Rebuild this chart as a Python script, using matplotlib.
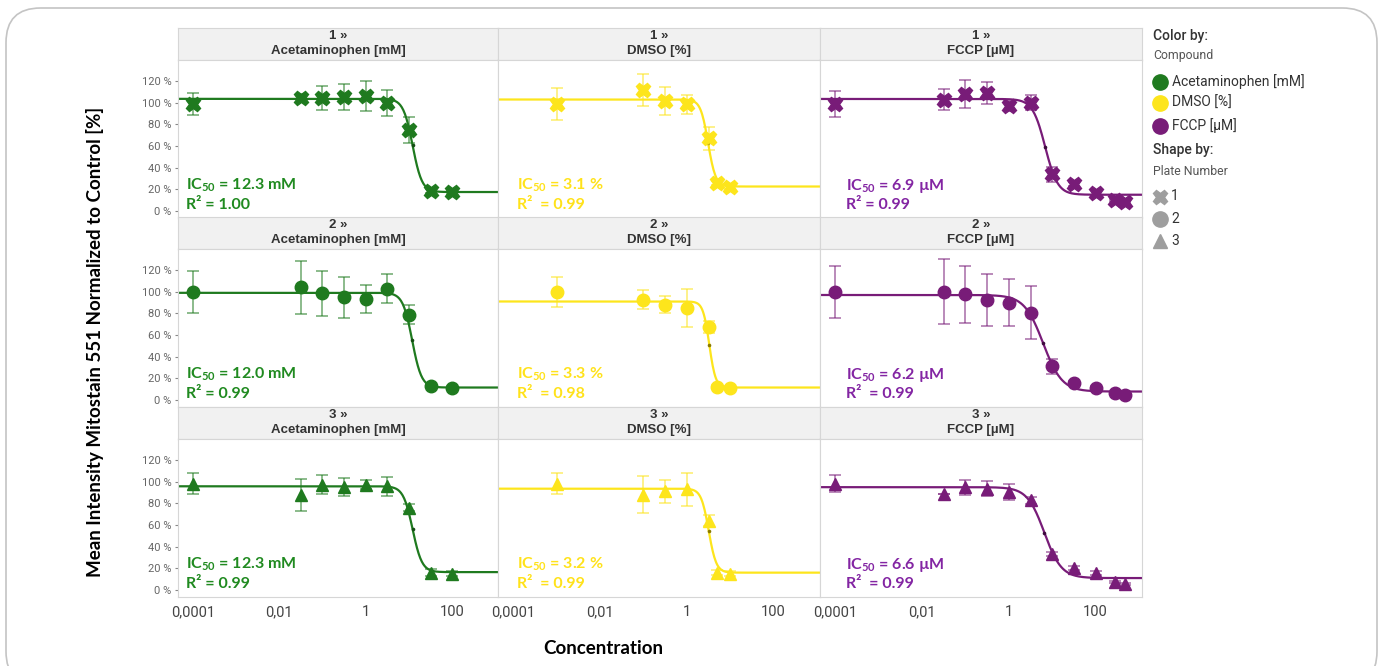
import numpy as np
import matplotlib.pyplot as plt
from matplotlib.patches import FancyBboxPatch

plt.rcParams['font.family'] = ['Roboto', 'DejaVu Sans']
plt.rcParams['mathtext.fontset'] = 'custom'
plt.rcParams['mathtext.rm'] = 'Lato:bold'
plt.rcParams['mathtext.it'] = 'Lato:bold'
plt.rcParams['mathtext.bf'] = 'Lato:bold'

# ---- data ----
compounds = ['Acetaminophen [mM]', 'DMSO [%]', 'FCCP [µM]']
plates = ['1', '2', '3']

conc_acet = [0.0001, 0.032, 0.1, 0.32, 1, 3.2, 10, 32, 100]
conc_dmso = [0.001, 0.1, 0.32, 1, 3.2, 5, 10]
conc_fccp = [0.0001, 0.032, 0.1, 0.32, 1, 3.2, 10, 32, 100, 280, 470]

acet_p1 = [99, 104.5, 104.5, 105, 106, 100, 75, 18.6, 17.7]
acet_p1_err = [10, 4, 11, 12, 14, 12, 12, 2, 2]
acet_p2 = [99.8, 104, 98.6, 95, 93, 103, 78.8, 13, 11.2]
acet_p2_err = [19.5, 24.5, 21, 19, 13, 13, 8.5, 2, 1.5]
acet_p3 = [98.3, 87.4, 97.4, 95.2, 97.4, 95.8, 76, 16, 15.2]
acet_p3_err = [9.5, 14.7, 9, 8, 4.5, 9, 3, 3, 2]

dmso_p1 = [99, 112, 102, 98.6, 67, 26, 22.6]
dmso_p1_err = [15, 15, 13, 9, 11, 2, 2]
dmso_p2 = [99.8, 92.7, 88, 85, 67.3, 12.4, 11.5]
dmso_p2_err = [14, 8.5, 8, 17.5, 5.7, 1, 1]
dmso_p3 = [98.3, 88, 91, 93, 64, 16, 15.2]
dmso_p3_err = [10, 17, 10.4, 15, 5, 2, 2]

fccp_p1 = [99, 103, 108, 109, 97, 100, 34, 25, 17, 10, 8.4]
fccp_p1_err = [12, 10, 13, 10, 5, 7, 7, 2, 2, 1, 1]
fccp_p2 = [99.8, 99.8, 97.7, 92, 90, 80.6, 31, 15.5, 11.5, 6.8, 4.6]
fccp_p2_err = [24, 30, 26.5, 24, 22, 24.5, 7, 2, 1.5, 1, 1]
fccp_p3 = [98.3, 88.4, 95, 93.6, 90.5, 82.8, 33, 20, 15.5, 7.4, 5.3]
fccp_p3_err = [7.8, 0, 7, 7, 7.8, 3, 2, 2, 2, 1, 1]

# 4PL fit parameters (top, bottom, IC50, hill)
fit_acet = [(103.6, 17.5, 12.3, 4), (99, 11.5, 12.0, 4), (95.8, 16.5, 12.3, 4)]
fit_dmso = [(103, 22.6, 3.1, 5), (91, 11.5, 3.3, 6), (93.6, 16, 3.2, 5)]
fit_fccp = [(103.5, 15, 6.9, 3), (97, 7.8, 6.2, 2), (95, 11, 6.6, 2.2)]

ic50_acet = ['12.3 mM', '12.0 mM', '12.3 mM']
ic50_dmso = ['3.1 %', '3.3 %', '3.2 %']
ic50_fccp = ['6.9 µM', '6.2 µM', '6.6 µM']
r2_acet = ['R² = 1.00', 'R² = 0.99', 'R² = 0.99']
r2_dmso = ['R²  = 0.99', 'R²  = 0.98', 'R²  = 0.99']
r2_fccp = ['R² = 0.99', 'R²  = 0.99', 'R²  = 0.99']

xticks = [0.0001, 0.01, 1, 100]
xtick_labels = ['0,0001', '0,01', '1', '100']
yticks = [0, 20, 40, 60, 80, 100, 120]

# ---- styling ----
colors = ['#1f7a1f', '#fde51c', '#781c78']
dot_colors = ['#124d12', '#8a7a00', '#3d0a3d']
text_colors = ['#208a20', '#ffe21a', '#8325a3']
markers = ['X', 'o', '^']
msizes = [10.5, 9, 9]

concs = [conc_acet, conc_dmso, conc_fccp]
vals = [[acet_p1, acet_p2, acet_p3], [dmso_p1, dmso_p2, dmso_p3], [fccp_p1, fccp_p2, fccp_p3]]
errs = [[acet_p1_err, acet_p2_err, acet_p3_err], [dmso_p1_err, dmso_p2_err, dmso_p3_err],
        [fccp_p1_err, fccp_p2_err, fccp_p3_err]]
fits = [fit_acet, fit_dmso, fit_fccp]
ic50s = [ic50_acet, ic50_dmso, ic50_fccp]
r2s = [r2_acet, r2_dmso, r2_fccp]

W, H = 1383, 666
fig = plt.figure(figsize=(W / 100, H / 100), dpi=100)


def box(x0, y0, x1, y1):
    return [x0 / W, 1 - y1 / H, (x1 - x0) / W, (y1 - y0) / H]


# outer rounded frame
fig.patches.append(FancyBboxPatch((6 / W, -20 / H), 1371 / W, 678 / H,
                                  boxstyle='round,pad=0,rounding_size=0.025',
                                  transform=fig.transFigure, fill=False,
                                  ec='#c4c4c4', lw=1.2, mutation_aspect=W / H))

col_x = [(178, 498), (498, 820), (820, 1142)]
head_top = [28, 217, 407]
xlim = (10 ** -4.35, 10 ** 3.07)
ann_x = [0.025, 0.06, 0.08]
grid_c = '#d6d6d6'

for r in range(3):
    for c in range(3):
        x0, x1 = col_x[c]
        ht = head_top[r]
        # header strip
        hax = fig.add_axes(box(x0, ht, x1, ht + 32))
        hax.set_facecolor('#f1f1f1')
        hax.set_xticks([])
        hax.set_yticks([])
        for s in hax.spines.values():
            s.set_color(grid_c)
        hax.text(0.5, 0.74, plates[r] + ' »', ha='center', va='center', fontsize=9.5,
                 fontweight='bold', color='#333333', family=['Liberation Sans'])
        hax.text(0.5, 0.27, compounds[c], ha='center', va='center', fontsize=9.5,
                 fontweight='bold', color='#333333', family=['Liberation Sans'])

        ax = fig.add_axes(box(x0, ht + 32, x1, ht + 190))
        ax.set_xscale('log')
        ax.set_xlim(xlim)
        ax.set_ylim(-6.5, 139.5)
        for s in ax.spines.values():
            s.set_color(grid_c)

        col = colors[c]
        x = np.array(concs[c])
        top, bottom, ic50, hill = fits[c][r]
        xs = np.logspace(-4.35, 3.07, 400)
        ax.plot(xs, bottom + (top - bottom) / (1 + (xs / ic50) ** hill), color=col, lw=1.6, zorder=2)
        ymid = bottom + (top - bottom) / 2
        ax.plot([ic50], [ymid], 'o', color=dot_colors[c], ms=2.6, mew=0, zorder=3)

        ax.errorbar(x, vals[c][r], yerr=errs[c][r], fmt='none', ecolor=col, alpha=0.6,
                    elinewidth=1.2, capsize=4, capthick=1.2, zorder=3)
        ax.plot(x, vals[c][r], linestyle='none', marker=markers[r], ms=msizes[r],
                color=col, mec=col, zorder=4)

        ax.text(ann_x[c], 0.205, 'IC$_{50}$ = ' + ic50s[c][r], transform=ax.transAxes,
                ha='left', va='center', fontsize=11.5, fontweight='bold',
                color=text_colors[c], family=['Lato'])
        ax.text(ann_x[c], 0.085, r2s[c][r], transform=ax.transAxes,
                ha='left', va='center', fontsize=11.5, fontweight='bold',
                color=text_colors[c], family=['Lato', 'DejaVu Sans'])

        ax.set_xticks(xticks)
        ax.minorticks_off()
        if r == 2:
            ax.set_xticklabels(xtick_labels, fontsize=10.5, color='#444444')
            ax.tick_params(axis='x', length=0, pad=6)
        else:
            ax.tick_params(axis='x', length=0, labelbottom=False)
        ax.set_yticks(yticks)
        if c == 0:
            ax.set_yticklabels(['%d %%' % v for v in yticks], fontsize=8, color='#666666')
            ax.tick_params(axis='y', length=2.5, color='#888888', pad=2)
        else:
            ax.tick_params(axis='y', length=0, labelleft=False)

# axis titles
fig.text(95 / W, 1 - 342 / H, 'Mean Intensity Mitostain 551 Normalized to Control [%]',
         rotation=90, ha='center', va='center', fontsize=13.5, fontweight='bold',
         family=['Lato'], color='black')
fig.text(603 / W, 1 - 648 / H, 'Concentration', ha='center', va='center', fontsize=13.5,
         fontweight='bold', family=['Lato'], color='black')

# legend
lax = fig.add_axes(box(1145, 20, 1383, 260))
lax.set_xlim(1145, 1383)
lax.set_ylim(260, 20)
lax.axis('off')
lax.text(1153, 36, 'Color by:', fontsize=10, fontweight='medium', color='#333333', va='center')
lax.text(1153, 56, 'Compound', fontsize=8.8, color='#555555', va='center')
for i, (name, col) in enumerate(zip(compounds, colors)):
    yy = [81.5, 103, 126][i]
    lax.plot([1160], [yy], 'o', ms=11, color=col, mec=col)
    lax.text(1172, yy, name, fontsize=10, color='#333333', va='center')
lax.text(1153, 150, 'Shape by:', fontsize=10, fontweight='medium', color='#333333', va='center')
lax.text(1153, 171.5, 'Plate Number', fontsize=8.8, color='#555555', va='center')
for i, p in enumerate(plates):
    yy = [196.5, 219, 241][i]
    lax.plot([1160], [yy], markers[i], ms=[10.5, 11, 10.5][i], color='#9e9e9e', mec='#9e9e9e')
    lax.text(1171, yy, p, fontsize=10, color='#333333', va='center')

fig.savefig('out.png', dpi=100)
